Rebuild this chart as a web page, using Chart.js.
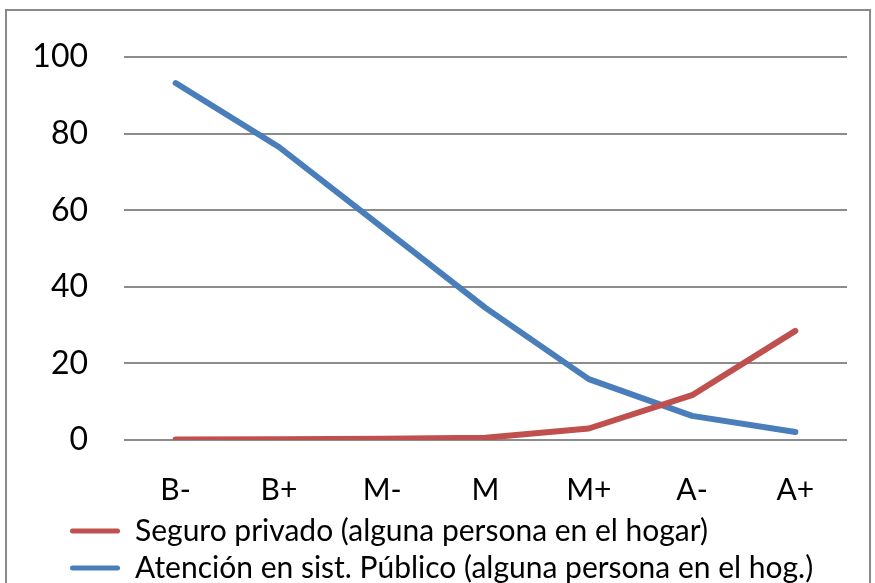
<!DOCTYPE html>
<html>
<head>
<meta charset="utf-8">
<script src="https://cdn.jsdelivr.net/npm/chart.js@4.4.1/dist/chart.umd.min.js"></script>
<style>
  html, body { margin: 0; padding: 0; background: #fff; overflow: hidden; }
  #wrap { position: relative; width: 875px; height: 583px; overflow: hidden; }
  #marco { position: absolute; left: 5px; top: 9px; width: 862px; height: 620px; border: 2px solid #8a8a8a; }
  #caja { position: absolute; left: 0; top: 0; width: 875px; height: 593px; }
</style>
</head>
<body>
<div id="wrap">
  <div id="marco"></div>
  <div id="caja"><canvas id="grafico"></canvas></div>
</div>
<script>
// categorias (nivel socioeconomico)
const categorias = ['B-', 'B+', 'M-', 'M', 'M+', 'A-', 'A+'];
const seguroPrivado = [0.1, 0.2, 0.3, 0.6, 3.0, 11.7, 28.5];
const atencionPublico = [93.2, 76.5, 55.5, 34.5, 15.9, 6.3, 2.1];
const ticksY = [0, 20, 40, 60, 80, 100];

const nombreSeguro = 'Seguro privado (alguna persona en el hogar)';
const nombrePublico = 'Atención en sist. Público (alguna persona en el hog.)';

const rojo = '#c0504d';
const azul = '#4a7ebb';

// corre la leyenda a la izquierda como en el original
const moverLeyenda = {
  id: 'moverLeyenda',
  afterLayout(chart) {
    chart.legend.left = 63;
  }
};

function renderizarGrafico() {
  const ctx = document.getElementById('grafico').getContext('2d');
  new Chart(ctx, {
    type: 'line',
    data: {
      labels: categorias,
      datasets: [{
        label: nombreSeguro,
        data: seguroPrivado,
        borderColor: rojo,
        backgroundColor: rojo,
        borderWidth: 6,
        borderCapStyle: 'round',
        borderJoinStyle: 'round',
        pointRadius: 0,
        tension: 0
      }, {
        label: nombrePublico,
        data: atencionPublico,
        borderColor: azul,
        backgroundColor: azul,
        borderWidth: 6,
        borderCapStyle: 'round',
        borderJoinStyle: 'round',
        pointRadius: 0,
        tension: 0
      }]
    },
    options: {
      responsive: true,
      maintainAspectRatio: false,
      animation: false,
      layout: { padding: { top: 57, right: 28, left: 0, bottom: 0 } },
      plugins: {
        tooltip: { enabled: false },
        legend: {
          position: 'bottom',
          align: 'start',
          labels: {
            boxWidth: 50,
            boxHeight: 5,
            padding: 7,
            color: '#000',
            font: { family: 'Lato', size: 30 },
            generateLabels(chart) {
              return chart.data.datasets.map((ds, i) => ({
                text: ds.label,
                fillStyle: ds.borderColor,
                strokeStyle: ds.borderColor,
                lineWidth: 0,
                borderRadius: 2.5,
                datasetIndex: i
              }));
            }
          }
        }
      },
      scales: {
        x: {
          offset: true,
          grid: { display: false, drawTicks: false },
          border: { display: false },
          ticks: { color: '#000', padding: 32, font: { family: 'Lato', size: 30 } },
          afterFit(scale) { scale.height = 69; }
        },
        y: {
          min: 0,
          max: 100,
          afterBuildTicks(scale) { scale.ticks = ticksY.map(v => ({ value: v })); },
          grid: { color: '#8c8c8c', lineWidth: 2, drawTicks: false },
          border: { display: false },
          ticks: { color: '#000', padding: 36, font: { family: 'Lato', size: 32 } },
          afterFit(scale) { scale.width = 124; }
        }
      }
    },
    plugins: [moverLeyenda]
  });
}

renderizarGrafico();
</script>
</body>
</html>
